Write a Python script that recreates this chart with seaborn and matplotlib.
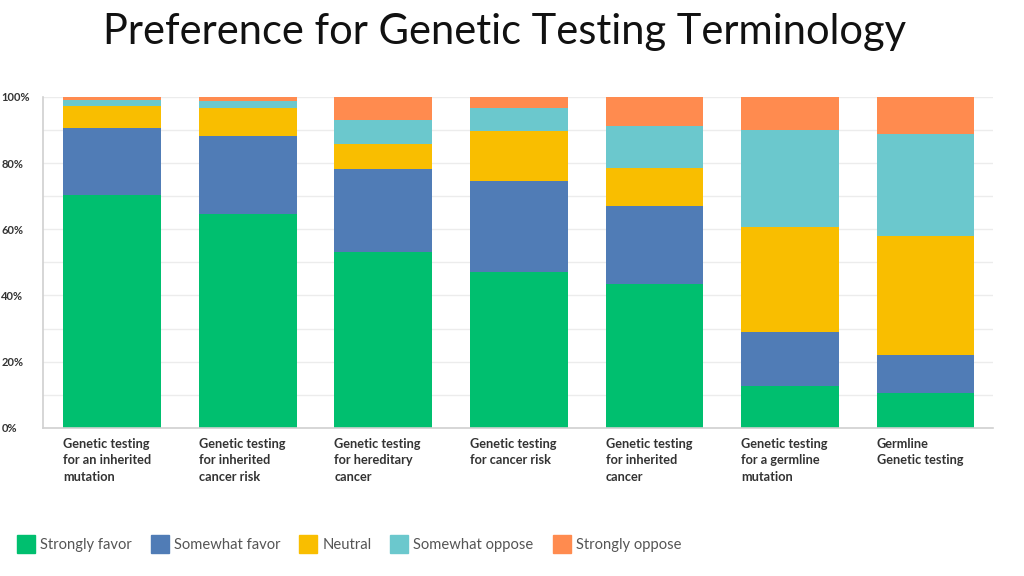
import matplotlib
matplotlib.use("Agg")
import matplotlib.pyplot as plt
import seaborn as sns
import pandas as pd
import numpy as np
from matplotlib.lines import Line2D
from matplotlib.ticker import MultipleLocator

categories = [
    "Genetic testing\nfor an inherited\nmutation",
    "Genetic testing\nfor inherited\ncancer risk",
    "Genetic testing\nfor hereditary\ncancer",
    "Genetic testing\nfor cancer risk",
    "Genetic testing\nfor inherited\ncancer",
    "Genetic testing\nfor a germline\nmutation",
    "Germline\nGenetic testing",
]
series_names = ["Strongly favor", "Somewhat favor", "Neutral", "Somewhat oppose", "Strongly oppose"]
strongly_favor = [70.4, 64.6, 53.1, 47.0, 43.5, 12.7, 10.5]
somewhat_favor = [20.1, 23.5, 25.1, 27.7, 23.6, 16.2, 11.5]
neutral = [6.8, 8.5, 7.5, 14.9, 11.5, 31.7, 36.1]
somewhat_oppose = [1.8, 2.0, 7.4, 7.1, 12.6, 29.4, 30.6]
strongly_oppose = [0.9, 1.4, 6.9, 3.3, 8.8, 10.0, 11.3]
colors = ["#00BF6F", "#507CB6", "#F9BE00", "#6BC8CD", "#FF8B4F"]
yticks = [0, 20, 40, 60, 80, 100]

sns.set_theme(style="white")
plt.rcParams["font.family"] = ["Lato", "DejaVu Sans"]

series = [strongly_favor, somewhat_favor, neutral, somewhat_oppose, strongly_oppose]
df = pd.DataFrame({"category": categories})
cum = np.zeros(len(categories))
for name, vals in zip(series_names, series):
    cum = cum + np.array(vals)
    df[name] = cum.copy()

fig = plt.figure(figsize=(10.24, 5.76), dpi=100)
ax = fig.add_axes([0.042, 0.257, 0.928, 0.575])

# draw from top of stack downwards so lower segments overlay
for name, color in reversed(list(zip(series_names, colors))):
    sns.barplot(data=df, x="category", y=name, color=color, width=0.72,
                ax=ax, saturation=1, linewidth=0, order=categories)

ax.set_xlim(-0.51, 6.5)
ax.set_ylim(0, 100)
ax.grid(axis="y", color="#ececec", linewidth=1)
ax.set_axisbelow(True)
ax.set_yticks(range(0, 101, 10))
ax.set_yticklabels([f"{v}%" if v in yticks else "" for v in range(0, 101, 10)])
ax.set_xlabel("")
ax.set_ylabel("")
for s in ["top", "right"]:
    ax.spines[s].set_visible(False)
for s in ["left", "bottom"]:
    ax.spines[s].set_color("#d0d0d0")
    ax.spines[s].set_linewidth(1.2)
ax.tick_params(axis="y", length=0, pad=30, labelsize=8, labelcolor="#333333")
for lab in ax.get_yticklabels():
    lab.set_horizontalalignment("left")
    lab.set_fontweight("bold")
ax.set_xticks([])
ax.set_xticklabels([])
for i, cat in enumerate(categories):
    ax.text(i - 0.36, -3.0, cat, ha="left", va="top", fontsize=9.2,
            fontweight="bold", color="#333333", linespacing=1.45)

fig.text(0.493, 0.945, "Preference for Genetic Testing Terminology", ha="center",
         va="center", fontsize=30, color="#111111")

handles = [Line2D([0], [0], marker="s", linestyle="none", markersize=13,
                  markerfacecolor=c, markeredgecolor=c) for c in colors]
leg = fig.legend(handles, series_names, loc="center left", bbox_to_anchor=(0.004, 0.054),
                 ncol=5, frameon=False, fontsize=10.6, handletextpad=0.35,
                 columnspacing=1.3, handlelength=1.2)
for t in leg.get_texts():
    t.set_color("#555555")

fig.savefig("out.png", dpi=100, facecolor="white")
